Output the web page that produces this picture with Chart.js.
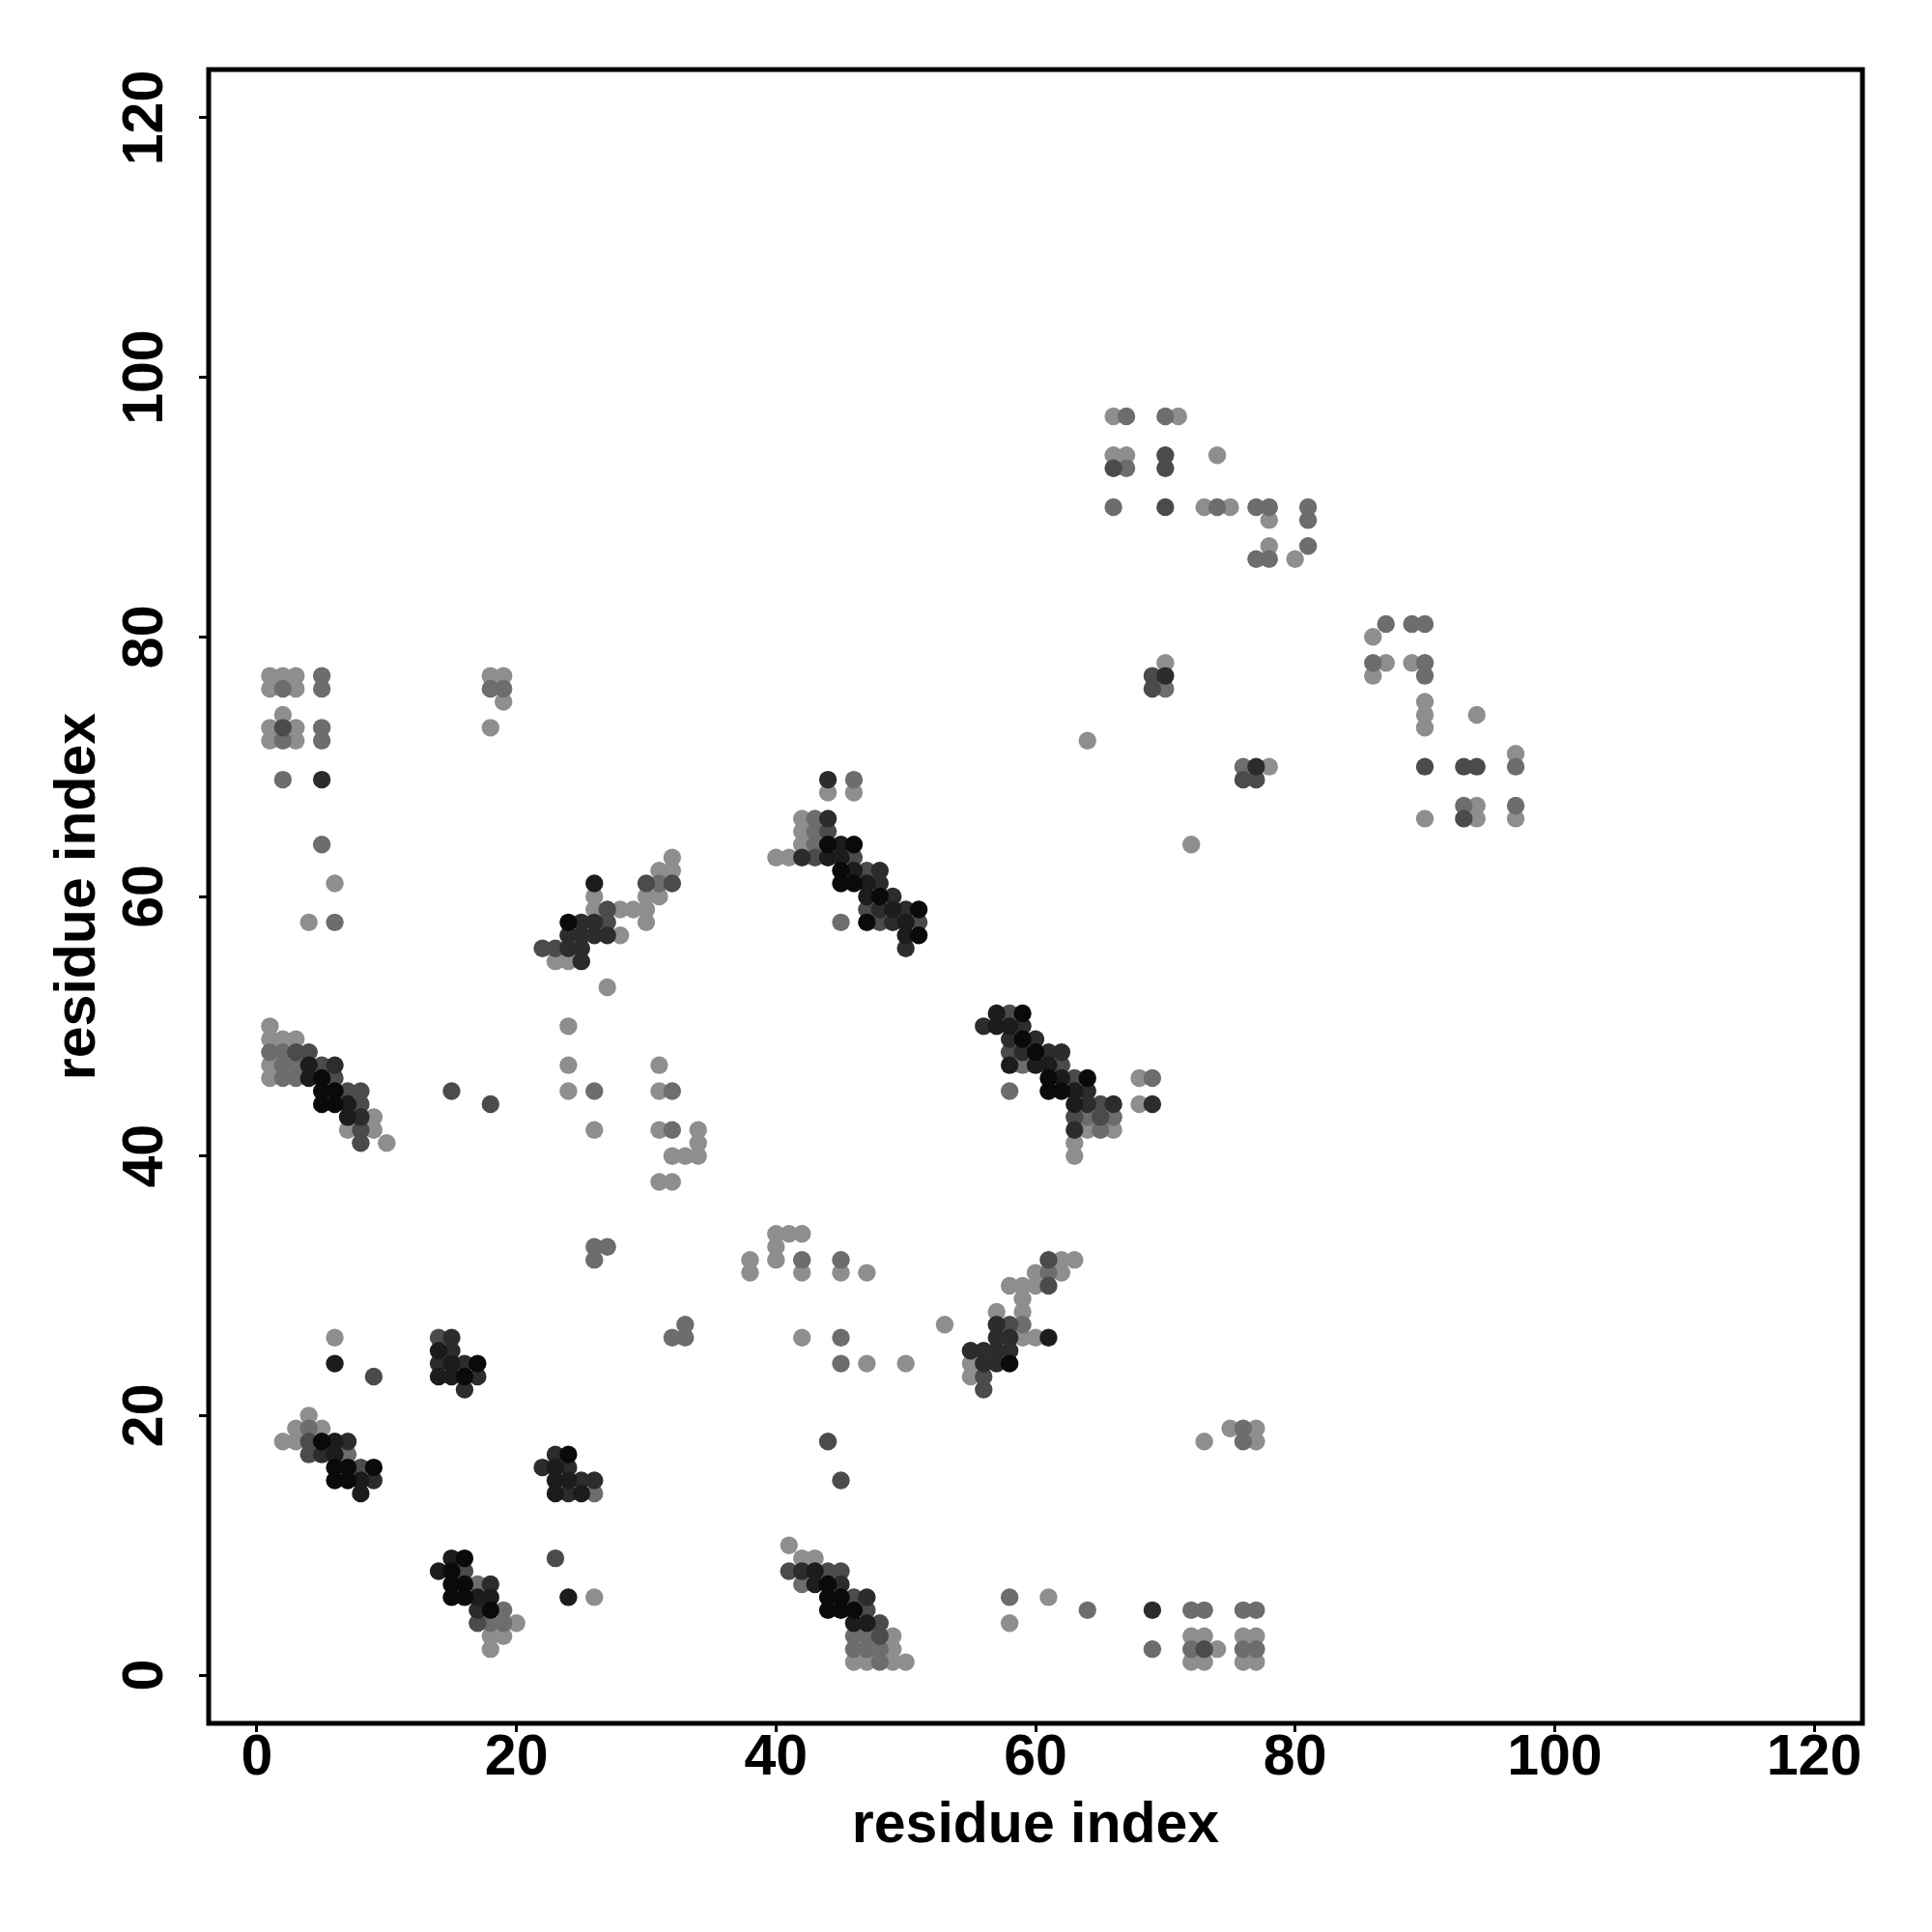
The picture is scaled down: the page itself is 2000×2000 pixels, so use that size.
<!DOCTYPE html>
<html><head><meta charset="utf-8">
<script src="https://cdn.jsdelivr.net/npm/chart.js@4.4.0/dist/chart.umd.min.js"></script>
<style>html,body{margin:0;padding:0;background:#fff;}canvas{display:block;}</style>
</head><body>
<canvas id="c" width="2000" height="2000"></canvas>
<script>
const xTicks = [0, 20, 40, 60, 80, 100, 120];
const yTicks = [0, 20, 40, 60, 80, 100, 120];
const axisTitleX = 'residue index';
const axisTitleY = 'residue index';

// contacts grouped by grey level (darkest = strongest)
const shade0 = [[17,24],[16,23],[5,18],[6,16],[7,16],[9,16],[6,15],[7,15],[24,17],[16,9],[15,8],[15,7],[16,7],[15,6],[16,6],[18,5],
[58,24],[44,7],[44,6],[45,6],[44,5],[45,5],[46,5],
[24,58],[5,46],[5,45],[6,45],[5,44],[6,44],
[44,64],[46,64],[45,62],[45,61],[46,61],[48,60],[51,59],[47,58],[51,57],
[59,51],[59,49],[60,48],[61,46],[64,46],[61,45],[62,45]];
const shade1 = [[6,24],[14,25],[15,24],[14,23],[15,23],[6,18],[6,17],[8,15],[8,14],[23,16],[23,15],[24,15],[23,14],[25,14],[24,6],[15,9],[14,8],[17,6],[18,6],
[61,26],[43,8],[43,7],[46,4],[47,4],
[4,47],[4,46],[7,44],[7,43],[26,61],
[45,64],[44,63],[45,63],[46,62],[47,61],[47,60],[49,59],[50,58],[50,57],
[57,51],[57,50],[58,50],[58,47],[60,47],[61,47],[62,46],[63,45],[63,44]];
const shade2 = [[15,26],[15,25],[14,24],[16,24],[17,23],[16,22],[7,18],[5,17],[9,15],[23,17],[22,16],[24,16],[25,15],[26,15],[24,14],[18,7],[17,5],
[57,27],[57,26],[58,26],[55,25],[56,25],[57,25],[58,25],[56,24],[57,24],[42,8],[45,7],[47,6],
[69,5],
[6,47],[8,43],[25,58],[26,58],[24,57],[25,57],[26,57],[27,57],[24,56],[25,56],[25,55],
[44,66],[42,63],[48,62],[48,61],[49,60],[48,59],[50,59],[49,58],[50,56],
[56,50],[59,50],[58,49],[60,49],[59,48],[61,48],[62,48],[64,45],[64,44],[63,42],
[66,44],[69,44],[5,69],[44,69],[70,77],[77,70]];
const shade3 = [[9,23],[14,26],[4,18],[4,17],[8,16],[16,8],[17,4],[23,9],
[61,32],[61,30],[58,27],[56,23],[56,22],[44,18],[45,15],[41,8],[44,8],[45,8],[46,6],[47,5],[48,4],[48,3],
[73,2],
[3,48],[4,48],[5,47],[6,46],[7,45],[8,45],[8,44],[8,42],[8,41],[15,45],[18,44],[27,59],[27,58],[22,56],[23,56],
[30,61],[32,61],
[44,65],[43,63],[46,63],[47,62],[47,59],[48,58],[51,58],
[58,51],[58,48],[62,47],[63,46],[65,44],[63,43],[65,43],
[93,66],[2,73],
[70,94],[66,93],[70,93],[70,90],[69,77],[69,76],[76,69],[77,69],[90,70],[93,70],[94,70]];
const shade4 = [[4,19],[7,17],[26,14],[17,7],[19,5],[18,4],[19,4],[26,32],[26,33],[27,33],
[42,32],[45,32],[32,26],[33,26],[33,27],[45,26],[45,24],[61,31],[59,27],[42,7],[46,3],[47,3],[46,2],[47,2],[48,2],[48,1],[58,6],[64,5],
[76,19],[76,18],[72,5],[73,5],[76,5],[77,5],[69,2],[72,2],[76,2],[77,2],
[5,64],[6,58],[1,48],[2,48],[2,47],[3,47],[2,46],[3,46],[26,45],[32,45],[32,42],
[31,61],[43,66],[43,65],[43,64],[45,58],
[59,47],[58,45],[64,43],[65,42],[69,46],[66,43],
[5,77],[2,76],[5,76],[5,73],[2,72],[5,72],[2,69],[18,76],[19,76],[46,69],
[67,97],[70,97],[67,93],[66,90],[74,90],[77,90],[78,90],[81,90],[81,89],[81,87],[77,86],[78,86],[87,81],[89,81],[90,81],[86,78],[90,78],[90,77],[70,76],[76,70],[97,70],[93,67],[97,67]];
const shade5 = [[6,26],[4,20],[3,19],[5,19],[2,18],[3,18],[20,4],[18,3],[19,3],[18,2],[26,6],
[38,32],[38,31],[40,33],[40,32],[42,31],[45,31],[47,31],[42,26],[47,24],[50,24],[53,27],[62,32],[63,32],[60,31],[62,31],[58,30],[59,30],[60,30],[59,29],[57,28],[59,28],[59,26],[60,26],[55,24],[55,23],[41,10],[42,9],[43,9],[49,3],[49,2],[46,1],[47,1],[49,1],[50,1],[61,6],[58,4],
[73,18],[75,19],[77,19],[77,18],[72,3],[73,3],[76,3],[77,3],[74,2],[72,1],[73,1],[76,1],[77,1],
[6,61],[4,58],[1,50],[1,49],[2,49],[3,49],[1,47],[1,46],[9,43],[7,42],[9,42],[10,41],[24,50],[24,47],[24,45],[26,42],[31,47],[31,45],[31,42],[34,42],[34,41],[32,40],[33,40],[34,40],[31,38],[32,38],
[26,60],[26,59],[28,59],[29,59],[30,59],[30,60],[30,58],[31,60],[31,62],[32,62],[32,63],[28,57],[23,55],[24,55],[27,53],
[42,66],[42,65],[42,64],[40,63],[41,63],
[63,41],[63,40],[64,42],[66,42],
[40,34],[41,34],[42,34],
[72,64],[90,66],[94,66],[97,66],[68,46],[68,44],
[1,77],[2,77],[3,77],[1,76],[3,76],[2,74],[1,73],[3,73],[1,72],[3,72],[18,77],[19,77],[19,75],[18,73],
[44,68],[46,68],[64,72],
[66,97],[71,97],[66,94],[67,94],[74,94],[73,90],[75,90],[78,89],[78,87],[80,86],[86,80],[87,78],[89,78],[86,77],[90,75],[90,74],[94,74],[90,73],[70,78],[78,70],[97,71],[94,67]];

const shades = [shade0, shade1, shade2, shade3, shade4, shade5];
const shadeColors = ['#0a0a0a', '#1c1c1c', '#2c2c2c', '#4b4b4b', '#6d6d6d', '#8e8e8e'];

const FONT = '"Liberation Sans", Arial, Helvetica, sans-serif';

const datasets = shades.map((pts, i) => ({
  data: pts.map(p => ({x: p[0], y: p[1]})),
  backgroundColor: shadeColors[i],
  borderWidth: 0,
  pointRadius: 9.2,
  pointHoverRadius: 9.2,
  order: i
}));

const boxPlugin = {
  id: 'box',
  afterDatasetsDraw(chart) {
    const {ctx, chartArea: a} = chart;
    ctx.save();
    ctx.lineWidth = 5;
    ctx.strokeStyle = '#000';
    ctx.strokeRect(a.left, a.top, a.right - a.left, a.bottom - a.top);
    ctx.restore();
  }
};

new Chart(document.getElementById('c'), {
  type: 'scatter',
  data: {datasets},
  plugins: [boxPlugin],
  options: {
    responsive: false,
    devicePixelRatio: 1,
    animation: false,
    layout: {padding: {left: 0, top: 72, right: 72, bottom: 0}},
    plugins: {legend: {display: false}, tooltip: {enabled: false}},
    scales: {
      x: {
        type: 'linear', min: -3.72, max: 123.72,
        afterBuildTicks: s => { s.ticks = xTicks.map(v => ({value: v})); },
        afterFit: s => { s.height = 216; },
        border: {display: false},
        grid: {display: true, drawOnChartArea: false, drawTicks: true, tickLength: 9, tickWidth: 3, tickColor: '#000'},
        ticks: {color: '#000', font: {family: FONT, size: 59, weight: 'bold'}, padding: -8, maxRotation: 0, minRotation: 0, autoSkip: false},
        title: {display: true, text: axisTitleX, color: '#000', font: {family: FONT, size: 59, weight: 'bold'}, padding: {top: 0, bottom: 74}}
      },
      y: {
        type: 'linear', min: -3.72, max: 123.72,
        afterBuildTicks: s => { s.ticks = yTicks.map(v => ({value: v})); },
        afterFit: s => { s.width = 216; },
        border: {display: false},
        grid: {display: true, drawOnChartArea: false, drawTicks: true, tickLength: 10, tickWidth: 3, tickColor: '#000'},
        ticks: {color: '#000', font: {family: FONT, size: 59, weight: 'bold'}, padding: 5, minRotation: 90, maxRotation: 90, crossAlign: 'center', autoSkip: false},
        title: {display: true, text: axisTitleY, color: '#000', font: {family: FONT, size: 59, weight: 'bold'}, padding: {top: 46, bottom: 0}}
      }
    }
  }
});
</script>
</body></html>
